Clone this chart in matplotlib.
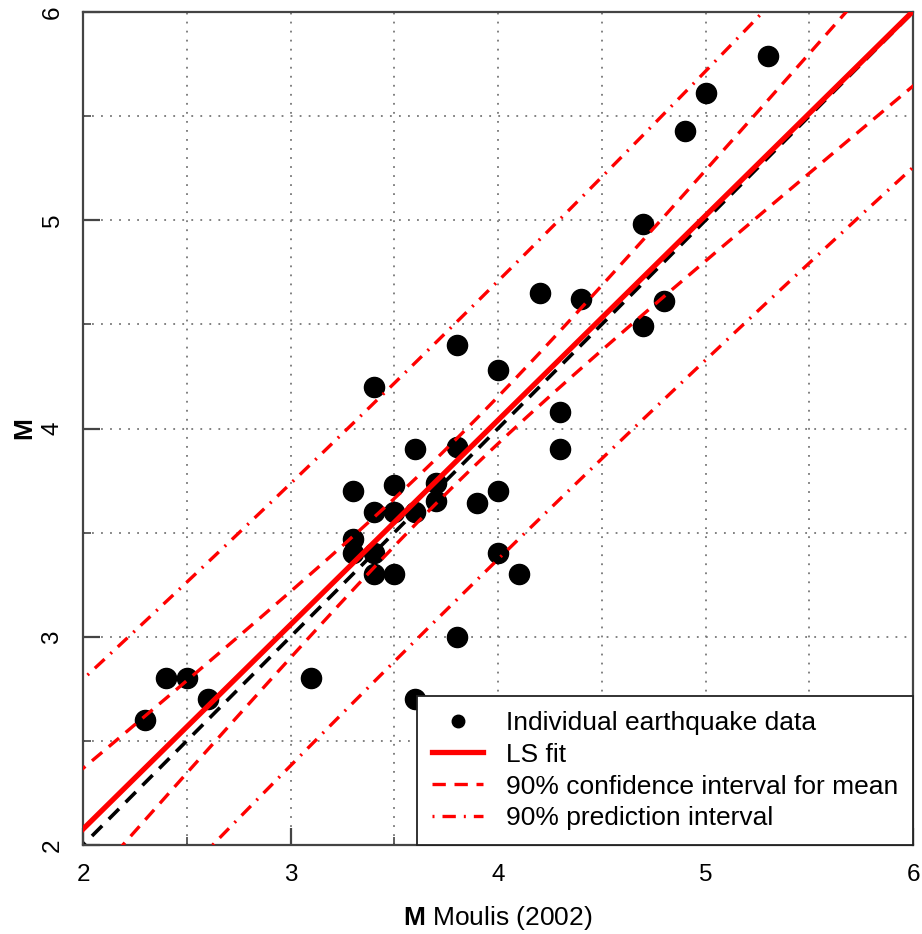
import numpy as np
import matplotlib
matplotlib.use("Agg")
import matplotlib.pyplot as plt
from matplotlib.ticker import MultipleLocator

plt.rcParams['font.family'] = ['Liberation Sans', 'DejaVu Sans']
plt.rcParams['mathtext.fontset'] = 'custom'
plt.rcParams['mathtext.rm'] = 'Liberation Sans'
plt.rcParams['mathtext.bf'] = 'Liberation Sans:bold'

########## data
m_moulis = [2.3, 2.4, 2.5, 2.6, 3.1, 3.3, 3.3, 3.3, 3.4, 3.4, 3.4, 3.4,
            3.5, 3.5, 3.5, 3.6, 3.6, 3.6, 3.7, 3.7, 3.8, 3.8, 3.8, 3.9,
            4.0, 4.0, 4.0, 4.1, 4.2, 4.3, 4.3, 4.4, 4.7, 4.7, 4.8, 4.9,
            5.0, 5.3]
m_new = [2.6, 2.8, 2.8, 2.7, 2.8, 3.7, 3.47, 3.4, 4.2, 3.6, 3.4, 3.3,
         3.73, 3.6, 3.3, 3.9, 3.6, 2.7, 3.74, 3.65, 4.4, 3.91, 3.0, 3.64,
         4.28, 3.7, 3.4, 3.3, 4.65, 4.08, 3.9, 4.62, 4.98, 4.49, 4.61, 5.43,
         5.61, 5.79]

labels = ["Individual earthquake data", "LS fit",
          "90% confidence interval for mean", "90% prediction interval"]
t_90 = 1.688      # t quantile 0.95, 36 dof
resid_sd = 0.39   # residual std. error

########## LS fit + intervals
x = np.array(m_moulis)
y = np.array(m_new)
n = len(x)
b, a = np.polyfit(x, y, 1)
sxx = np.sum((x - x.mean()) ** 2)

xx = np.linspace(1.8, 6.2, 200)
fit = a + b * xx
ci = t_90 * resid_sd * np.sqrt(1.0 / n + (xx - x.mean()) ** 2 / sxx)
pi = t_90 * resid_sd * np.sqrt(1 + 1.0 / n + (xx - x.mean()) ** 2 / sxx)

fig = plt.figure(figsize=(9.22, 9.34), dpi=100)
ax = fig.add_axes([83 / 922, 1 - 845 / 934, 830 / 922, 833 / 934])

dash = (0, (4, 2.6))
dotdash = (0, (0.6, 2.4, 4, 2.4))

ax.plot(xx, xx, color='black', lw=2.6, ls=dash, zorder=2)
ax.plot(x, y, 'o', color='black', ms=14.5, zorder=3, label=labels[0])
ax.plot(xx, fit, color='red', lw=3.8, zorder=4, label=labels[1])
ax.plot(xx, fit + ci, color='red', lw=2.4, ls=dash, zorder=4, label=labels[2])
ax.plot(xx, fit - ci, color='red', lw=2.4, ls=dash, zorder=4)
ax.plot(xx, fit + pi, color='red', lw=2.4, ls=dotdash, zorder=4, label=labels[3])
ax.plot(xx, fit - pi, color='red', lw=2.4, ls=dotdash, zorder=4)

ax.set_xlim(2, 6)
ax.set_ylim(2, 6)
ax.xaxis.set_minor_locator(MultipleLocator(0.5))
ax.yaxis.set_minor_locator(MultipleLocator(0.5))
ax.grid(which='both', color='#777777', ls=(0, (1, 4)), lw=1.3, zorder=1)

for sp in ax.spines.values():
    sp.set_color('#444444')
    sp.set_linewidth(1.6)
ax.tick_params(which='major', direction='in', length=12, width=1.6,
               color='#444444', labelsize=17.5, pad=14)
ax.tick_params(which='minor', direction='in', length=6, width=1.2,
               color='#444444')
ax.set_xticks([2, 3, 4, 5, 6])
ax.set_xticklabels(['2', '3', '4', '5', '6'])
ax.set_yticks([2, 3, 4, 5, 6])
ax.set_yticklabels(['2', '3', '4', '5', '6'], rotation=90, va='center')

ax.set_xlabel(r'$\mathbf{M}$ Moulis (2002)', fontsize=19, labelpad=13)
ax.set_ylabel('M', fontsize=19, fontweight='bold', labelpad=4)

leg = ax.legend(loc='lower right', borderaxespad=0, fontsize=19,
                fancybox=False, framealpha=1, edgecolor='#222222',
                markerscale=0.62, handlelength=1.95, handletextpad=0.87,
                labelspacing=0.3, borderpad=0.55, numpoints=1)
leg.get_frame().set_linewidth(1.3)
leg.set_zorder(5)

fig.savefig('out.png', dpi=100)
